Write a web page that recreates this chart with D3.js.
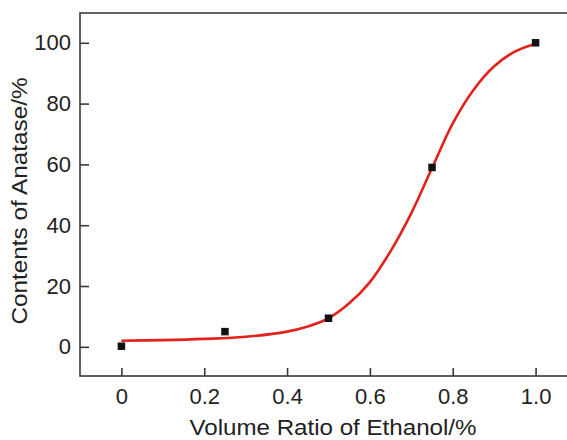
<!DOCTYPE html>
<html>
<head>
<meta charset="utf-8">
<script src="https://cdn.jsdelivr.net/npm/d3@7/dist/d3.min.js"></script>
<style>
  html, body { margin: 0; padding: 0; background: #fff; }
  svg { display: block; }
  text { font-family: "Liberation Sans", Arial, Helvetica, sans-serif; fill: #222; }
</style>
</head>
<body>
<div id="chart"></div>
<script>
// ---- data ----
const pointX = [0, 0.25, 0.5, 0.75, 1.0];
const pointY = [0.2, 5.0, 9.4, 59.0, 100.0];

const fitX = [0, 0.1, 0.2, 0.3, 0.4, 0.45, 0.5, 0.55, 0.6, 0.65, 0.7, 0.75, 0.8, 0.85, 0.9, 0.95, 1.0];
const fitY = [2.0, 2.2, 2.6, 3.3, 5.0, 6.7, 9.4, 14.3, 21.3, 31.5, 44.0, 58.8, 73.5, 84.5, 92.3, 97.1, 99.7];

const xTicks = [0, 0.2, 0.4, 0.6, 0.8, 1.0];
const xTickLabels = ["0", "0.2", "0.4", "0.6", "0.8", "1.0"];
const yTicks = [0, 20, 40, 60, 80, 100];
const yTickLabels = ["0", "20", "40", "60", "80", "100"];

const xTitle = "Volume Ratio of Ethanol/%";
const yTitle = "Contents of Anatase/%";

// ---- layout ----
const W = 567, H = 440;
const mLeft = 80, mTop = 13, mRight = 577, mBottom = 376;

const svg = d3.select("#chart").append("svg")
  .attr("width", W).attr("height", H);

const x = d3.scaleLinear().domain([-0.1, 1.1]).range([mLeft, mRight]);
const y = d3.scaleLinear().domain([-9.6, 109.8]).range([mBottom, mTop]);

const axisColor = "#3a3a3a";

// frame
svg.append("rect")
  .attr("x", mLeft).attr("y", mTop)
  .attr("width", mRight - mLeft).attr("height", mBottom - mTop)
  .attr("fill", "none").attr("stroke", axisColor).attr("stroke-width", 1.6);

// x axis (inward ticks)
const xAxis = d3.axisBottom(x).tickValues(xTicks)
  .tickFormat((d, i) => xTickLabels[i])
  .tickSizeInner(-8).tickSizeOuter(0).tickPadding(18);
const gx = svg.append("g").attr("transform", `translate(0,${mBottom})`).call(xAxis);
gx.select(".domain").remove();
gx.selectAll(".tick line").attr("stroke", axisColor).attr("stroke-width", 1.6);
gx.selectAll(".tick text")
  .attr("font-size", 22).attr("fill", "#222")
  .attr("font-family", '"Liberation Sans", Arial, sans-serif')
  .attr("dy", "0.71em").attr("y", 12);

// y axis (inward ticks)
const yAxis = d3.axisLeft(y).tickValues(yTicks)
  .tickFormat((d, i) => yTickLabels[i])
  .tickSizeInner(-9).tickSizeOuter(0).tickPadding(18);
const gy = svg.append("g").attr("transform", `translate(${mLeft},0)`).call(yAxis);
gy.select(".domain").remove();
gy.selectAll(".tick line").attr("stroke", axisColor).attr("stroke-width", 1.6);
gy.selectAll(".tick text")
  .attr("font-size", 22).attr("fill", "#222")
  .attr("font-family", '"Liberation Sans", Arial, sans-serif')
  .attr("x", -9);

// fitted curve
const fitData = fitX.map((v, i) => [v, fitY[i]]);
svg.append("path")
  .datum(fitData)
  .attr("fill", "none")
  .attr("stroke", "#e3211c")
  .attr("stroke-width", 2.6)
  .attr("d", d3.line().x(d => x(d[0])).y(d => y(d[1])).curve(d3.curveCatmullRom.alpha(0.5)));

// data points
const pts = pointX.map((v, i) => [v, pointY[i]]);
const s = 7.5;
svg.append("g").selectAll("rect").data(pts).join("rect")
  .attr("x", d => x(d[0]) - s / 2)
  .attr("y", d => y(d[1]) - s / 2)
  .attr("width", s).attr("height", s)
  .attr("fill", "#111");

// axis titles
svg.append("text")
  .attr("x", 333).attr("y", 435)
  .attr("text-anchor", "middle")
  .attr("font-size", 22)
  .attr("textLength", 287).attr("lengthAdjust", "spacingAndGlyphs")
  .text(xTitle);

svg.append("text")
  .attr("transform", `translate(27,201) rotate(-90)`)
  .attr("text-anchor", "middle")
  .attr("font-size", 22)
  .attr("textLength", 247).attr("lengthAdjust", "spacingAndGlyphs")
  .text(yTitle);
</script>
</body>
</html>
